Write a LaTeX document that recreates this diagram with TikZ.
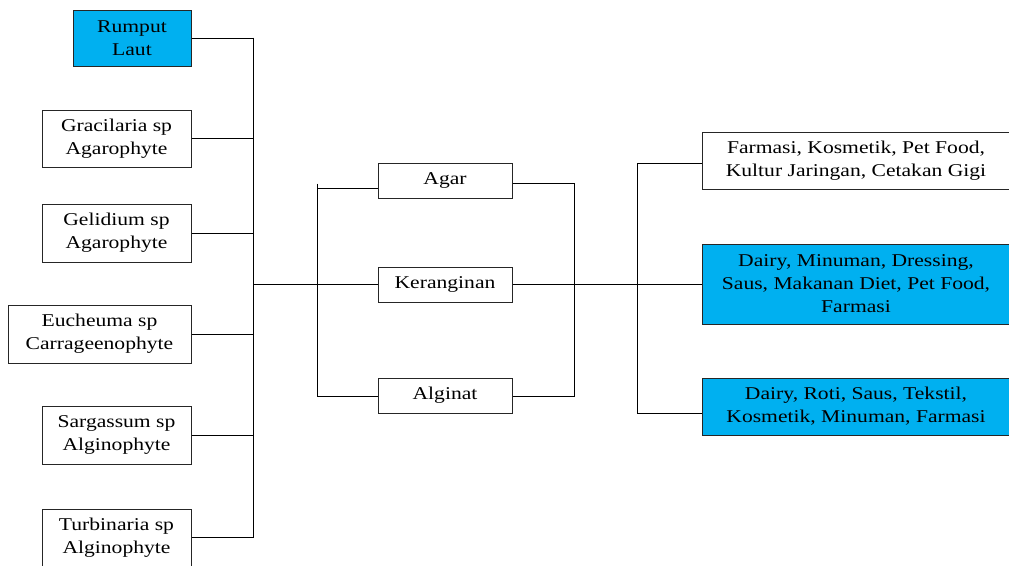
\documentclass[tikz,border=0pt]{standalone}
\usepackage{fontspec}
\setmainfont{Liberation Serif}[FakeStretch=1.2]
\definecolor{boxblue}{HTML}{00B0F0}
\begin{document}
\begin{tikzpicture}[x=1pt,y=-1pt,
  box/.style={draw=black!85, line width=1pt, inner sep=0pt, align=center,
              font=\fontsize{18}{23}\selectfont},
  leftbox/.style={box, minimum width=149, minimum height=57},
  midbox/.style={box, minimum width=134, minimum height=35},
  rightbox/.style={box, minimum width=308, minimum height=57},
  hl/.style={fill=boxblue},
  link/.style={draw=black, line width=0.9pt}]
\useasboundingbox (0,0) rectangle (1009,565);

% seaweed sources
\node[box, hl, minimum width=118, minimum height=56] (rl) at (132,38) {Rumput\\Laut};
\node[leftbox] (gr) at (116.5,138.5) {Gracilaria sp\\Agarophyte};
\node[leftbox, minimum height=58] (ge) at (116.5,233) {Gelidium sp\\Agarophyte};
\node[leftbox, minimum width=183, minimum height=58] (eu) at (99.5,334) {Eucheuma sp\\Carrageenophyte};
\node[leftbox, minimum height=58] (sa) at (116.5,435) {Sargassum sp\\Alginophyte};
\node[leftbox] (tu) at (116.5,537.5) {Turbinaria sp\\Alginophyte};

% products
\node[midbox] (agar) at (445,180.5) {Agar};
\node[midbox] (ker) at (445,284.5) {Keranginan};
\node[midbox] (alg) at (445,395.5) {Alginat};

% applications
\node[rightbox] (r1) at (856,160.5) {Farmasi, Kosmetik, Pet Food,\\Kultur Jaringan, Cetakan Gigi};
\node[rightbox, hl, minimum height=80] (r2) at (856,284) {Dairy, Minuman, Dressing,\\Saus, Makanan Diet, Pet Food,\\Farmasi};
\node[rightbox, hl] (r3) at (856,406.5) {Dairy, Roti, Saus, Tekstil,\\Kosmetik, Minuman, Farmasi};

% bus lines
\coordinate (sTop) at (253,37.5);
\coordinate (sBot) at (253,537.5);
\coordinate (mTop) at (317,183.5);
\coordinate (mBot) at (317,396.5);
\coordinate (nTop) at (574,183.5);
\coordinate (nBot) at (574,396.5);
\coordinate (rTop) at (637,163.5);
\coordinate (rBot) at (637,413.5);

% left bus
\draw[link] (sTop) -- (sBot);
\foreach \n in {rl,gr,ge,eu,sa,tu}
  \draw[link] (\n.east) -- (\n.east -| sTop);
\draw[link] (ker.west -| sTop) -- (ker.west);

% middle-left bus
\draw[link] (mTop) -- (mBot);
\draw[link] (mTop |- 0,188.5) -- (agar.west |- 0,188.5);
\draw[link] (mBot) -- (alg.west |- mBot);

% middle-right bus
\draw[link] (agar.east |- nTop) -- (nTop) -- (nBot) -- (alg.east |- nBot);
\draw[link] (ker.east) -- (ker.east -| r2.west);

% right bus
\draw[link] (r1.west |- rTop) -- (rTop) -- (rBot) -- (r3.west |- rBot);
\end{tikzpicture}
\end{document}
